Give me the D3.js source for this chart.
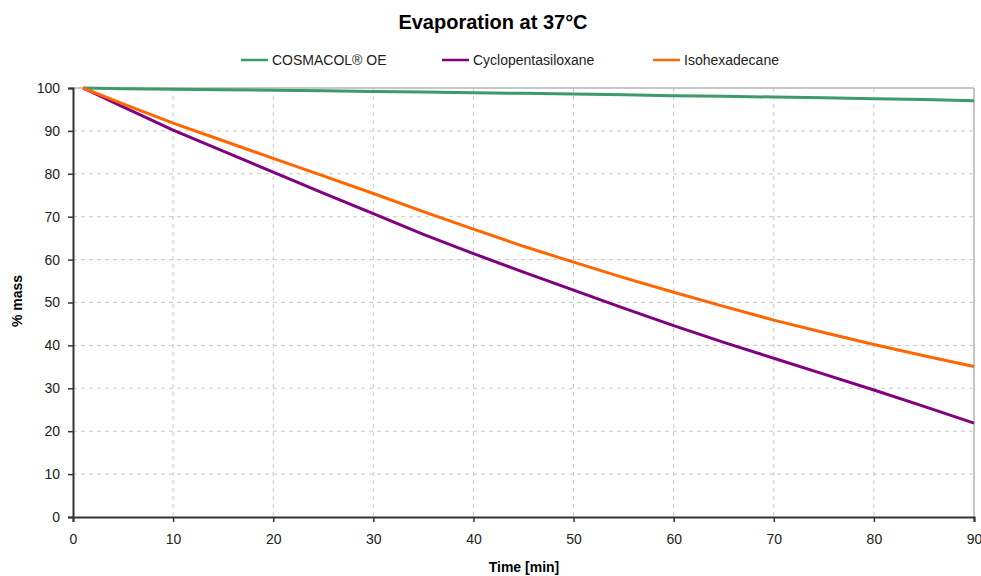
<!DOCTYPE html>
<html>
<head>
<meta charset="utf-8">
<script src="https://cdn.jsdelivr.net/npm/d3@7"></script>
<style>
  body { margin: 0; background: #fff; }
  svg { font-family: "Liberation Sans", Arial, sans-serif; }
  .tick text { font-size: 14px; fill: #222; }
</style>
</head>
<body>
<svg id="chart" width="981" height="576"></svg>
<script>
// data
var time = [1, 5, 10, 15, 20, 25, 30, 35, 40, 45, 50, 55, 60, 65, 70, 75, 80, 85, 90];
var cosmacol = [100, 99.85, 99.7, 99.6, 99.5, 99.35, 99.2, 99.05, 98.9, 98.75, 98.6, 98.4, 98.2, 98.05, 97.9, 97.7, 97.5, 97.3, 97.0];
var cyclo = [100, 95.6, 90.2, 85.3, 80.4, 75.5, 70.7, 65.9, 61.4, 57.1, 52.9, 48.7, 44.6, 40.7, 37.0, 33.3, 29.6, 25.8, 21.9];
var isohex = [100, 96.3, 91.8, 87.7, 83.6, 79.5, 75.4, 71.2, 67.1, 63.1, 59.4, 55.8, 52.4, 49.1, 45.9, 43.0, 40.2, 37.6, 35.1];
var seriesNames = ["COSMACOL® OE", "Cyclopentasiloxane", "Isohexadecane"];
var seriesColors = ["#3c9b68", "#800080", "#ff6600"];
var xTicks = d3.range(0, 91, 10);
var yTicks = d3.range(0, 101, 10);

var dimensions = {
    width: 981,
    height: 576,
    margin: { top: 88, right: 7, bottom: 59, left: 73 }
};
dimensions.boundedWidth = dimensions.width - dimensions.margin.left - dimensions.margin.right;
dimensions.boundedHeight = dimensions.height - dimensions.margin.top - dimensions.margin.bottom;

var svg = d3.select("#chart");
var g = svg.append("g")
    .attr("transform", `translate(${dimensions.margin.left}, ${dimensions.margin.top})`);

var xScale = d3.scaleLinear().domain([0, 90]).range([0, dimensions.boundedWidth]);
var yScale = d3.scaleLinear().domain([0, 100]).range([dimensions.boundedHeight, 0]);

// grid
g.selectAll(".hgrid").data(yTicks.filter(d => d > 0 && d < 100)).enter().append("line")
    .attr("x1", 0).attr("x2", dimensions.boundedWidth)
    .attr("y1", d => yScale(d)).attr("y2", d => yScale(d))
    .attr("stroke", "#c8c8c8").attr("stroke-dasharray", "4,4");
g.selectAll(".vgrid").data(xTicks.filter(d => d > 0 && d < 90)).enter().append("line")
    .attr("x1", d => xScale(d)).attr("x2", d => xScale(d))
    .attr("y1", 0).attr("y2", dimensions.boundedHeight)
    .attr("stroke", "#c8c8c8").attr("stroke-dasharray", "4,4");

// top and right border
g.append("line").attr("x1", 0).attr("x2", dimensions.boundedWidth).attr("y1", 0).attr("y2", 0)
    .attr("stroke", "#b4b4b4").attr("stroke-width", 1.5);
g.append("line").attr("x1", dimensions.boundedWidth).attr("x2", dimensions.boundedWidth)
    .attr("y1", 0).attr("y2", dimensions.boundedHeight)
    .attr("stroke", "#b4b4b4").attr("stroke-width", 1.5);

// axes
var xAxis = g.append("g")
    .attr("transform", `translate(0, ${dimensions.boundedHeight})`)
    .call(d3.axisBottom(xScale).tickValues(xTicks).tickSize(5).tickPadding(12));
var yAxis = g.append("g")
    .call(d3.axisLeft(yScale).tickValues(yTicks).tickSize(5).tickPadding(8));
[xAxis, yAxis].forEach(a => {
    a.select(".domain").attr("stroke", "#333").attr("stroke-width", 2);
    a.selectAll(".tick line").attr("stroke", "#333").attr("stroke-width", 1.5);
});

// lines
var allSeries = [cosmacol, cyclo, isohex];
var line = d3.line()
    .x((d, i) => xScale(time[i]))
    .y(d => yScale(d));
g.selectAll(".series").data(allSeries).enter().append("path")
    .attr("d", d => line(d))
    .attr("fill", "none")
    .attr("stroke", (d, i) => seriesColors[i])
    .attr("stroke-width", 3);

// title
svg.append("text")
    .attr("x", 493).attr("y", 29)
    .attr("text-anchor", "middle")
    .attr("font-size", "20px").attr("font-weight", "bold")
    .text("Evaporation at 37°C");

// legend
var legendX = [241, 442, 653];
var legend = svg.selectAll(".legend").data(seriesNames).enter().append("g")
    .attr("transform", (d, i) => `translate(${legendX[i]}, 60)`);
legend.append("line")
    .attr("x1", 0).attr("x2", 27).attr("y1", 0).attr("y2", 0)
    .attr("stroke", (d, i) => seriesColors[i]).attr("stroke-width", 2.5);
legend.append("text")
    .attr("x", 31).attr("y", 5)
    .attr("font-size", "14px").attr("fill", "#222")
    .text(d => d);

// axis titles
svg.append("text")
    .attr("x", 524).attr("y", 572)
    .attr("text-anchor", "middle")
    .attr("font-size", "14px").attr("font-weight", "bold")
    .text("Time [min]");
svg.append("text")
    .attr("transform", "translate(22, 301) rotate(-90)")
    .attr("text-anchor", "middle")
    .attr("font-size", "14px").attr("font-weight", "bold")
    .text("% mass");
</script>
</body>
</html>
